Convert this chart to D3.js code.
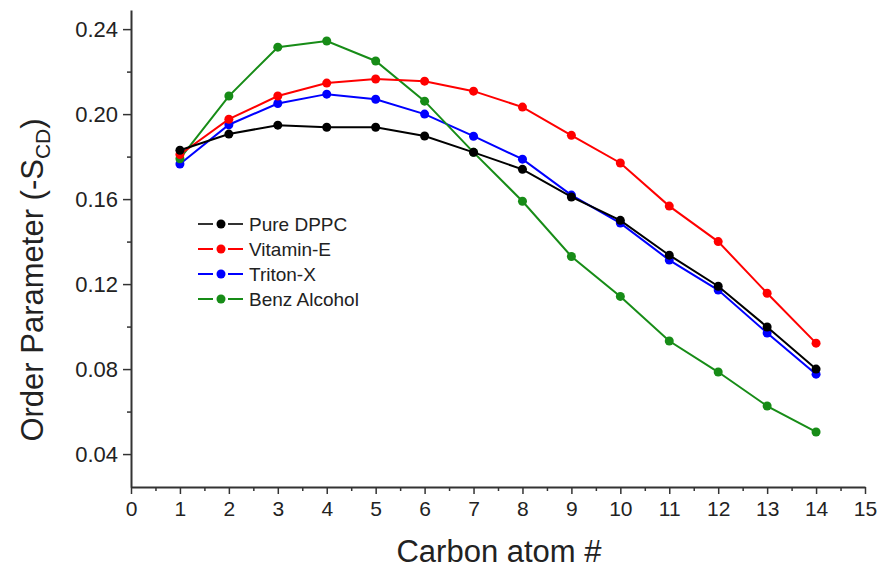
<!DOCTYPE html>
<html>
<head>
<meta charset="utf-8">
<script src="https://cdn.jsdelivr.net/npm/d3@7"></script>
<style>
  body { margin: 0; background: #fff; }
  svg text { font-family: "Liberation Sans", Arial, sans-serif; fill: #222; }
</style>
</head>
<body>
<div id="chart"></div>
<script>
// carbon positions along the chain
const carbons = [1, 2, 3, 4, 5, 6, 7, 8, 9, 10, 11, 12, 13, 14];

// order parameters
const pureDPPC   = [0.183, 0.1906, 0.1948, 0.1938, 0.1938, 0.1897, 0.182, 0.174, 0.161, 0.150, 0.1336, 0.119, 0.0998, 0.080];
const vitaminE   = [0.181, 0.1976, 0.2085, 0.2146, 0.2165, 0.2155, 0.2108, 0.2033, 0.190, 0.177, 0.1567, 0.140, 0.1157, 0.0922];
const tritonX    = [0.1765, 0.195, 0.205, 0.2094, 0.207, 0.200, 0.1896, 0.1788, 0.1619, 0.1487, 0.1313, 0.1172, 0.097, 0.0776];
const benzAlcohol = [0.179, 0.2085, 0.2315, 0.2344, 0.225, 0.2061, 0.182, 0.159, 0.133, 0.1142, 0.0932, 0.0786, 0.0626, 0.0504];

const seriesNames = ['Pure DPPC', 'Vitamin-E', 'Triton-X', 'Benz Alcohol'];
const seriesColors = ['#000000', '#ff0000', '#0000ff', '#178c17'];

const xTicks = d3.range(0, 16);
const yTicks = [0.04, 0.08, 0.12, 0.16, 0.20, 0.24];

const width = 883, height = 569;

let svg = d3.select('#chart')
  .append('svg')
  .attr('width', width)
  .attr('height', height);

let x = d3.scaleLinear().domain([0, 15]).range([131, 865]);
let y = d3.scaleLinear().domain([0.0245, 0.249]).range([487, 10]);

// minor ticks first
svg.append('g')
  .attr('transform', `translate(0, ${y.range()[0]})`)
  .call(d3.axisBottom(x).tickValues(d3.range(0.5, 15, 1)).tickSize(4).tickFormat(''))
  .call(g => g.select('.domain').remove())
  .call(g => g.selectAll('line').attr('stroke', '#333').attr('stroke-width', 1.5));

svg.append('g')
  .attr('transform', `translate(${x.range()[0]}, 0)`)
  .call(d3.axisLeft(y).tickValues(d3.range(0.06, 0.25, 0.04)).tickSize(4).tickFormat(''))
  .call(g => g.select('.domain').remove())
  .call(g => g.selectAll('line').attr('stroke', '#333').attr('stroke-width', 1.5));

// X axis
svg.append('g')
  .attr('transform', `translate(0, ${y.range()[0]})`)
  .call(d3.axisBottom(x).tickValues(xTicks).tickSize(7).tickSizeOuter(0).tickPadding(7).tickFormat(d3.format('d')))
  .call(g => g.select('.domain').attr('stroke', '#333').attr('stroke-width', 2))
  .call(g => g.selectAll('line').attr('stroke', '#333').attr('stroke-width', 1.5))
  .call(g => g.selectAll('text').attr('font-size', 21).attr('fill', '#222')
    .style('font-family', '"Liberation Sans", Arial, sans-serif'));

// Y axis
svg.append('g')
  .attr('transform', `translate(${x.range()[0]}, 0)`)
  .call(d3.axisLeft(y).tickValues(yTicks).tickSize(8).tickSizeOuter(0).tickPadding(5).tickFormat(d3.format('.2f')))
  .call(g => g.select('.domain').attr('stroke', '#333').attr('stroke-width', 2))
  .call(g => g.selectAll('line').attr('stroke', '#333').attr('stroke-width', 1.5))
  .call(g => g.selectAll('text').attr('font-size', 22).attr('fill', '#222')
    .style('font-family', '"Liberation Sans", Arial, sans-serif'));

// Series lines and markers
const allSeries = [pureDPPC, vitaminE, tritonX, benzAlcohol];
const drawOrder = [2, 3, 1, 0];

let line = d3.line()
  .x((d, i) => x(carbons[i]))
  .y(d => y(d));

drawOrder.forEach(k => {
  svg.append('path')
    .datum(allSeries[k])
    .attr('d', line)
    .attr('fill', 'none')
    .attr('stroke', seriesColors[k])
    .attr('stroke-width', 2);

  svg.append('g')
    .selectAll('circle')
    .data(allSeries[k])
    .join('circle')
    .attr('cx', (d, i) => x(carbons[i]))
    .attr('cy', d => y(d))
    .attr('r', 4.5)
    .attr('fill', seriesColors[k]);
});

// Legend: line - marker - line, then label
let legend = svg.append('g');
seriesNames.forEach((name, i) => {
  let ly = 224 + i * 25;
  legend.append('line')
    .attr('x1', 198).attr('x2', 213)
    .attr('y1', ly).attr('y2', ly)
    .attr('stroke', i == 0 ? '#333' : seriesColors[i])
    .attr('stroke-width', 2);
  legend.append('line')
    .attr('x1', 228).attr('x2', 243)
    .attr('y1', ly).attr('y2', ly)
    .attr('stroke', i == 0 ? '#333' : seriesColors[i])
    .attr('stroke-width', 2);
  legend.append('circle')
    .attr('cx', 221).attr('cy', ly)
    .attr('r', 4.5)
    .attr('fill', seriesColors[i]);
  legend.append('text')
    .attr('x', 249).attr('y', ly + 7)
    .attr('font-size', 19)
    .text(name);
});

// Axis titles
svg.append('text')
  .attr('x', 499)
  .attr('y', 562)
  .attr('text-anchor', 'middle')
  .attr('font-size', 31)
  .attr('fill', '#111')
  .text('Carbon atom #');

let yTitle = svg.append('text')
  .attr('transform', 'translate(43, 280) rotate(-90)')
  .attr('text-anchor', 'middle')
  .attr('font-size', 31)
  .attr('fill', '#111');
yTitle.append('tspan').text('Order Parameter (-S');
yTitle.append('tspan').attr('font-size', 21).attr('dy', 7).text('CD');
yTitle.append('tspan').attr('dy', -7).text(')');
</script>
</body>
</html>
